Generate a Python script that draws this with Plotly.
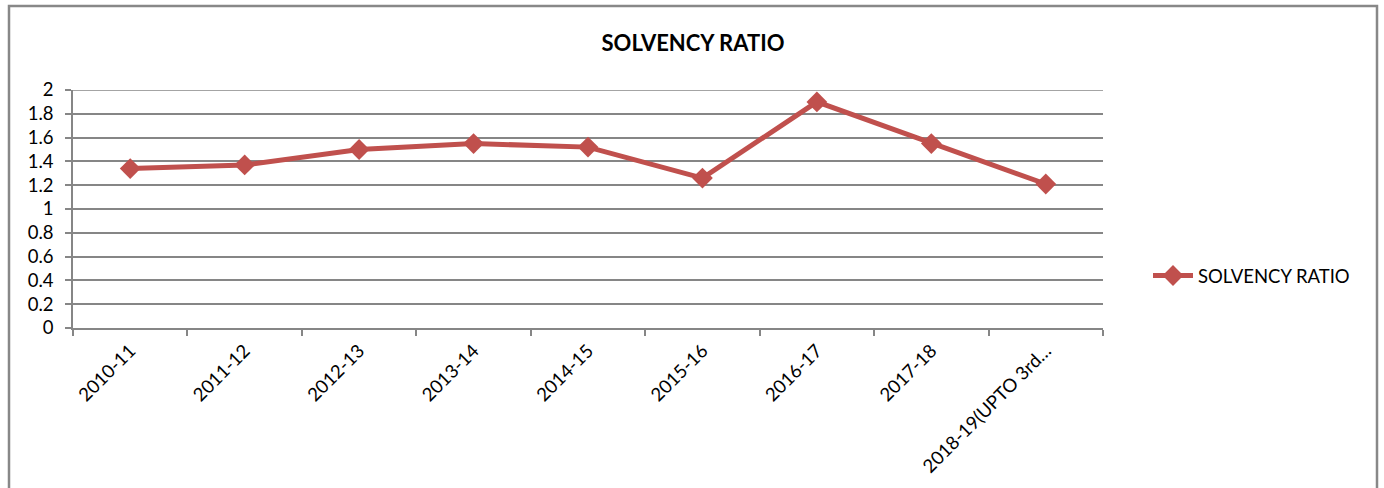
import plotly.graph_objects as go

categories = ["2010-11", "2011-12", "2012-13", "2013-14", "2014-15",
              "2015-16", "2016-17", "2017-18", "2018-19(UPTO 3rd…"]
solvency_ratio = [1.34, 1.37, 1.50, 1.55, 1.52, 1.26, 1.90, 1.55, 1.21]
y_ticks = [0, 0.2, 0.4, 0.6, 0.8, 1, 1.2, 1.4, 1.6, 1.8, 2]
y_tick_labels = ["0", "0.2", "0.4", "0.6", "0.8", "1", "1.2", "1.4", "1.6", "1.8", "2"]

W, H = 1384, 488
L, R, T, B = 73, 281, 90, 160
pw = W - L - R
ph = H - T - B

def px_x(x):
    return (x - L) / pw

def px_y(y):
    return (H - B - y) / ph

fig = go.Figure()
fig.add_trace(go.Scatter(
    x=categories, y=solvency_ratio, mode="lines+markers", name="SOLVENCY RATIO",
    line=dict(color="#C0504D", width=5),
    marker=dict(symbol="diamond", size=16, color="#C0504D"),
))

font_family = "Lato, 'Open Sans', sans-serif"
fs = 18.5
fig.update_layout(
    width=W, height=H,
    margin=dict(l=L, r=R, t=T, b=B),
    paper_bgcolor="white", plot_bgcolor="white",
    font=dict(family=font_family, size=fs, color="#000000"),
    title=dict(text="<b>SOLVENCY RATIO</b>", x=px_x(693), xref="paper", xanchor="center",
               y=(H - 43) / H, yref="container", yanchor="middle",
               font=dict(size=22, family=font_family, color="#000000")),
    showlegend=True,
    legend=dict(x=px_x(1148), y=px_y(276), xanchor="left", yanchor="middle",
                xref="paper", yref="paper",
                font=dict(size=fs, family=font_family), bgcolor="rgba(0,0,0,0)",
                itemwidth=40, tracegroupgap=0),
    xaxis=dict(
        type="category", tickson="boundaries", ticks="outside", ticklen=6,
        tickcolor="#868686", tickwidth=1.5, showgrid=False,
        showline=True, linecolor="#868686", linewidth=1.5,
        tickangle=-45, tickfont=dict(size=fs, family=font_family),
        ticklabelstandoff=3,
        range=[-0.5, len(categories) - 0.5], fixedrange=True,
    ),
    yaxis=dict(
        range=[0, 2], tickvals=y_ticks, ticktext=y_tick_labels,
        ticks="outside", ticklen=6, tickcolor="#868686", tickwidth=1.5,
        showgrid=True, gridcolor="#868686", gridwidth=1.5,
        showline=True, linecolor="#868686", linewidth=1.5,
        ticklabelstandoff=8,
        zeroline=False, tickfont=dict(size=fs, family=font_family), fixedrange=True,
    ),
    shapes=[
        dict(type="rect", xref="paper", yref="paper",
             x0=px_x(9), x1=px_x(1377), y0=px_y(6), y1=px_y(500),
             line=dict(color="#888888", width=2.5), fillcolor="rgba(0,0,0,0)", layer="below"),
        dict(type="line", xref="paper", yref="y", x0=0, x1=1, y0=2, y1=2,
             line=dict(color="#868686", width=1.5), layer="below"),
    ],
)

fig.write_html("out.html")
